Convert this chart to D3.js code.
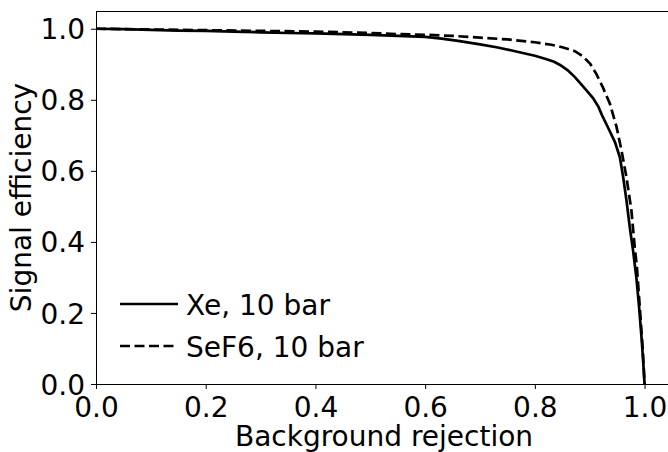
<!DOCTYPE html>
<html lang="en">

<head>
  <meta charset="utf-8">
  <title>Signal efficiency vs background rejection</title>
  <script src="https://d3js.org/d3.v7.min.js"></script>
  <style>
    body { margin: 0; background: #fff; }
    text { font-family: "DejaVu Sans", sans-serif; fill: #000; }
  </style>
</head>

<body>
  <script>
    // curve values
    var xeRejection = [0, 0.05, 0.1, 0.15, 0.2, 0.25, 0.3, 0.35, 0.4, 0.45, 0.5, 0.55, 0.6, 0.63, 0.66, 0.7, 0.73, 0.76, 0.78, 0.8, 0.82, 0.835, 0.846, 0.86, 0.873, 0.891, 0.906, 0.916, 0.922, 0.934, 0.946, 0.955, 0.961, 0.967, 0.973, 0.979, 0.985, 0.99, 0.995, 0.998, 1.0];
    var xeEfficiency = [1.0, 0.999, 0.997, 0.995, 0.994, 0.992, 0.99, 0.988, 0.987, 0.985, 0.983, 0.98, 0.977, 0.972, 0.966, 0.956, 0.948, 0.938, 0.931, 0.924, 0.915, 0.907, 0.898, 0.883, 0.864, 0.832, 0.805, 0.78, 0.758, 0.72, 0.681, 0.638, 0.582, 0.517, 0.442, 0.376, 0.3, 0.217, 0.12, 0.05, 0.0];

    var sefRejection = [0, 0.1, 0.2, 0.3, 0.4, 0.5, 0.55, 0.6, 0.65, 0.7, 0.75, 0.8, 0.83, 0.85, 0.873, 0.888, 0.901, 0.912, 0.924, 0.937, 0.949, 0.958, 0.967, 0.976, 0.982, 0.986, 0.992, 0.997, 1.0];
    var sefEfficiency = [1.0, 0.998, 0.996, 0.994, 0.992, 0.988, 0.985, 0.983, 0.98, 0.975, 0.97, 0.962, 0.955, 0.948, 0.937, 0.922, 0.901, 0.873, 0.835, 0.788, 0.723, 0.657, 0.582, 0.489, 0.386, 0.33, 0.2, 0.09, 0.0];

    var tickValues = [0, 0.2, 0.4, 0.6, 0.8, 1.0];
    var seriesLabels = ['Xe, 10 bar', 'SeF6, 10 bar'];

    var W = 668, H = 452;
    var margin = { top: 11, left: 96 };
    var innerW = 576, innerH = 373; // x runs to 1.05 and gets cut by the page edge
    var fs = 28;

    var svg = d3.select('body').append('svg')
      .attr('width', W)
      .attr('height', H);

    var g = svg.append('g')
      .attr('transform', 'translate(' + [margin.left, margin.top] + ')');

    var x = d3.scaleLinear().domain([0, 1.05]).range([0, innerW]);
    var y = d3.scaleLinear().domain([0, 1.05]).range([innerH, 0]);

    var xAxis = g.append('g')
      .attr('transform', 'translate(0,' + innerH + ')')
      .call(d3.axisBottom(x).tickValues(tickValues).tickFormat(d3.format('.1f'))
        .tickSizeInner(5).tickSizeOuter(0).tickPadding(8));
    var yAxis = g.append('g')
      .call(d3.axisLeft(y).tickValues(tickValues).tickFormat(d3.format('.1f'))
        .tickSizeInner(5).tickSizeOuter(0).tickPadding(6));

    [xAxis, yAxis].forEach(function(a) {
      a.select('.domain').remove();
      a.selectAll('line').attr('stroke', '#000').attr('stroke-width', 1);
      a.selectAll('text').attr('font-size', fs).attr('font-family', 'DejaVu Sans');
    });
    yAxis.selectAll('text').attr('dy', '0.36em');

    // frame
    g.append('rect')
      .attr('x', 0.5).attr('y', 0.5)
      .attr('width', innerW).attr('height', innerH)
      .attr('fill', 'none').attr('stroke', '#000').attr('stroke-width', 1);

    var line = d3.line()
      .x(function(d) { return x(d[0]); })
      .y(function(d) { return y(d[1]); });

    var xeData = d3.zip(xeRejection, xeEfficiency);
    var sefData = d3.zip(sefRejection, sefEfficiency);

    g.append('path')
      .datum(sefData)
      .attr('d', line)
      .attr('fill', 'none')
      .attr('stroke', '#000')
      .attr('stroke-width', 2.7)
      .attr('stroke-dasharray', '10,4.5');

    g.append('path')
      .datum(xeData)
      .attr('d', line)
      .attr('fill', 'none')
      .attr('stroke', '#000')
      .attr('stroke-width', 2.7);

    // legend
    var legend = svg.append('g');
    seriesLabels.forEach(function(lab, i) {
      var ly = 304 + i * 42;
      legend.append('line')
        .attr('x1', 120).attr('x2', 178)
        .attr('y1', ly).attr('y2', ly)
        .attr('stroke', '#000')
        .attr('stroke-width', 2.7)
        .attr('stroke-dasharray', i === 1 ? '10,4.5' : null);
      legend.append('text')
        .attr('x', 186).attr('y', ly + 10.5)
        .attr('font-size', fs)
        .text(lab);
    });

    // axis titles (bottom one is cut by the page edge like in the original)
    svg.append('text')
      .attr('x', margin.left + innerW / 2)
      .attr('y', 446)
      .attr('text-anchor', 'middle')
      .attr('font-size', fs)
      .text('Background rejection');

    svg.append('text')
      .attr('transform', 'translate(31,' + (margin.top + innerH / 2) + ') rotate(-90)')
      .attr('text-anchor', 'middle')
      .attr('font-size', fs)
      .text('Signal efficiency');
  </script>
</body>

</html>
